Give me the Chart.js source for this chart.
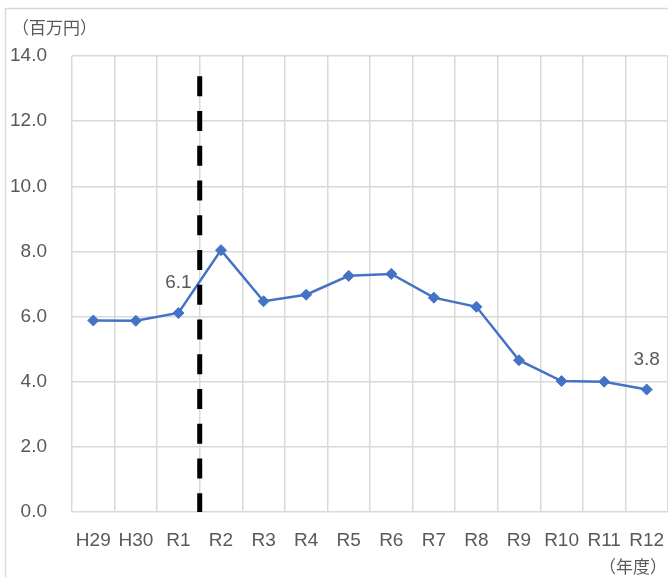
<!DOCTYPE html>
<html>
<head>
<meta charset="utf-8">
<script src="https://cdn.jsdelivr.net/npm/chart.js@4.4.1/dist/chart.umd.min.js"></script>
<style>
  html, body { margin: 0; padding: 0; background: #fff; }
  #wrap { width: 668px; height: 577px; position: relative; }
</style>
</head>
<body>
<div id="wrap"><canvas id="chart" width="668" height="577"></canvas></div>
<script>
// fiscal years and amounts (million yen)
const years = ["H29", "H30", "R1", "R2", "R3", "R4", "R5", "R6", "R7", "R8", "R9", "R10", "R11", "R12"];
const amounts = [5.88, 5.87, 6.11, 8.04, 6.47, 6.67, 7.25, 7.31, 6.58, 6.30, 4.66, 4.02, 4.00, 3.76];
const labelledYears = ["R1", "R12"];
// dashed divider between these two years, from top value down to the axis
const dividerBetween = ["R1", "R2"];
const dividerRange = [0, 13.38];

const textColor = "#595959";
const gridColor = "#d9d9d9";
const lineColor = "#4472C4";
const tickFont = { family: "'Liberation Sans', Arial, sans-serif", size: 19 };
const cjkFont = "17px 'Noto Sans CJK JP', sans-serif";

const extras = {
  id: "extras",
  beforeDraw(chart) {
    const ctx = chart.ctx;
    ctx.save();
    ctx.strokeStyle = gridColor;
    ctx.lineWidth = 1.5;
    ctx.strokeRect(5.5, 8.5, 800, 800);
    ctx.restore();
  },
  afterDatasetsDraw(chart) {
    const ctx = chart.ctx;
    const xs = chart.scales.x, ys = chart.scales.y;
    const meta = chart.getDatasetMeta(0);

    // vertical divider
    const i0 = years.indexOf(dividerBetween[0]);
    const i1 = years.indexOf(dividerBetween[1]);
    const dx = (xs.getPixelForValue(i0) + xs.getPixelForValue(i1)) / 2;
    ctx.save();
    ctx.strokeStyle = "#000";
    ctx.lineWidth = 5;
    ctx.setLineDash([20, 14.75]);
    ctx.beginPath();
    ctx.moveTo(dx, ys.getPixelForValue(dividerRange[1]));
    ctx.lineTo(dx, ys.getPixelForValue(dividerRange[0]));
    ctx.stroke();
    ctx.restore();

    // value labels
    ctx.save();
    ctx.fillStyle = textColor;
    ctx.font = tickFont.size + "px " + tickFont.family;
    ctx.textAlign = "center";
    ctx.textBaseline = "middle";
    labelledYears.forEach(y => {
      const i = years.indexOf(y);
      const pt = meta.data[i];
      ctx.fillText(amounts[i].toFixed(1), pt.x, pt.y - 30);
    });

    // unit captions
    ctx.font = cjkFont;
    ctx.textAlign = "left";
    ctx.fillText("（百万円）", 12, 28);
    ctx.textAlign = "right";
    ctx.fillText("（年度）", 667, 567);
    ctx.restore();
  }
};

new Chart(document.getElementById("chart"), {
  type: "line",
  data: {
    labels: years,
    datasets: [{
      data: amounts,
      borderColor: lineColor,
      backgroundColor: lineColor,
      borderWidth: 2.5,
      pointStyle: "rectRot",
      pointRadius: 5.5,
      pointBorderWidth: 1,
      tension: 0,
      fill: false
    }]
  },
  options: {
    responsive: false,
    animation: false,
    devicePixelRatio: 1,
    layout: { autoPadding: false, padding: { top: 56, right: 0, bottom: 0, left: 0 } },
    plugins: { legend: { display: false }, tooltip: { enabled: false } },
    scales: {
      x: {
        offset: true,
        grid: { offset: true, color: gridColor, lineWidth: 1.5, drawTicks: false },
        border: { display: false },
        ticks: { color: textColor, font: tickFont, padding: 17, maxRotation: 0, autoSkip: false },
        afterFit: s => { s.height = 65; s.paddingLeft = 0; s.paddingRight = 0; }
      },
      y: {
        min: 0,
        max: 14,
        grid: { color: gridColor, lineWidth: 1.5, drawTicks: false },
        border: { display: false },
        ticks: { stepSize: 2, color: textColor, font: tickFont, padding: 25, callback: v => v.toFixed(1) },
        afterFit: s => { s.width = 72; s.paddingTop = 0; s.paddingBottom = 0; }
      }
    }
  },
  plugins: [extras]
});
</script>
</body>
</html>
